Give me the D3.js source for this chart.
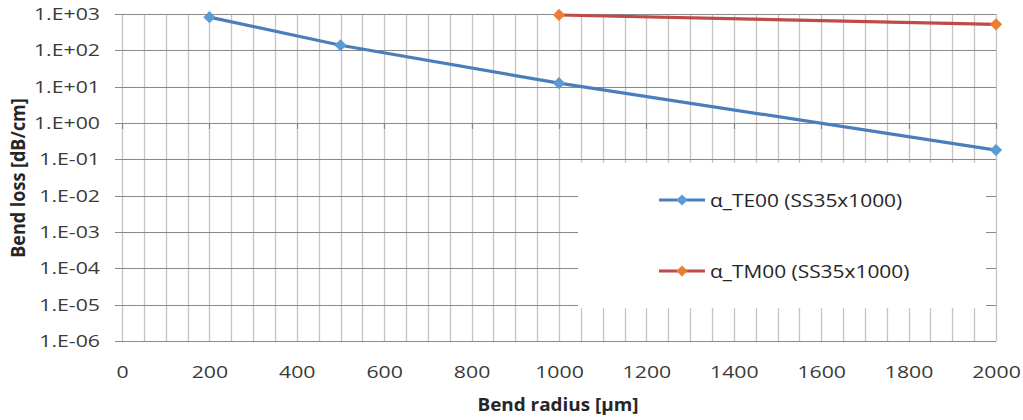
<!DOCTYPE html>
<html>
<head>
<meta charset="utf-8">
<script src="https://cdnjs.cloudflare.com/ajax/libs/d3/7.8.5/d3.min.js"></script>
<style>
	body { margin: 0; background: #fff; }
	svg { display: block; }
	text { font-family: "Open Sans", "Noto Sans", sans-serif; fill: #3a3a3a; }
	.tick-label { font-size: 16px; }
	.axis-title { font-size: 18px; font-weight: bold; fill: #262626; }
	.legend-text { font-size: 19px; fill: #262626; }
</style>
</head>
<body>
<script>
"use strict";

/* global d3 */

// Bend radius [um] for each series
var radiusTE = [200, 500, 1000, 2000];
var radiusTM = [1000, 2000];

// Bend loss [dB/cm]
var lossTE = [820, 138, 12.5, 0.18];
var lossTM = [940, 520];

var seriesNames = ['α_TE00 (SS35x1000)', 'α_TM00 (SS35x1000)'];

var xTicks = [0, 200, 400, 600, 800, 1000, 1200, 1400, 1600, 1800, 2000];
var yTicks = [1e3, 1e2, 1e1, 1e0, 1e-1, 1e-2, 1e-3, 1e-4, 1e-5, 1e-6];
var yTickLabels = ['1.E+03', '1.E+02', '1.E+01', '1.E+00', '1.E-01',
	'1.E-02', '1.E-03', '1.E-04', '1.E-05', '1.E-06'];

var W = 1023, H = 420;
var plot = { x0: 122, x1: 996, y0: 14, y1: 341 };
var textStretch = 1.33;   // the source picture is stretched horizontally

var svg = d3.select('body').append('svg').attr('width', W).attr('height', H);

var x = d3.scaleLinear().domain([0, 2000]).range([plot.x0, plot.x1]);
var y = d3.scaleLog().domain([1e-6, 1e3]).range([plot.y1, plot.y0]);

////////////////////////////////////////////////////////////////////////////////
// Gridlines: minor verticals every 50, horizontals at each decade
////////////////////////////////////////////////////////////////////////////////
svg.append('g').selectAll('line').data(d3.range(0, 2001, 50)).join('line').
	attr('x1', d => Math.round(x(d)) + 0.5).attr('x2', d => Math.round(x(d)) + 0.5).
	attr('y1', plot.y0).attr('y2', plot.y1).
	style('stroke', '#c4c4c4').style('stroke-width', 1.3);

svg.append('g').selectAll('line').data(yTicks).join('line').
	attr('x1', plot.x0 - 7).attr('x2', plot.x1).
	attr('y1', d => Math.round(y(d)) + 0.5).attr('y2', d => Math.round(y(d)) + 0.5).
	style('stroke', '#8a8a8a').style('stroke-width', 1.2);

// Major tick marks on the horizontal axis, which crosses at 1.E+00
svg.append('g').selectAll('line').data(xTicks).join('line').
	attr('x1', d => Math.round(x(d)) + 0.5).attr('x2', d => Math.round(x(d)) + 0.5).
	attr('y1', y(1)).attr('y2', y(1) + 6).
	style('stroke', '#8a8a8a').style('stroke-width', 1.2);

////////////////////////////////////////////////////////////////////////////////
// Axes labels (d3 axes, domain and ticks hidden - gridlines are drawn above)
////////////////////////////////////////////////////////////////////////////////
var yAxis = svg.append('g').attr('transform', 'translate(' + (plot.x0 - 22) + ',0)').
	call(d3.axisLeft(y).tickValues(yTicks).tickSize(0).
		tickFormat((d, i) => yTickLabels[i]));
yAxis.select('.domain').remove();
yAxis.selectAll('text').attr('class', 'tick-label').attr('x', 0).attr('dy', '0.35em').
	attr('transform', 'scale(' + textStretch + ',1)');
yAxis.attr('font-family', null).attr('font-size', null);

var xAxis = svg.append('g').attr('transform', 'translate(0,' + (plot.y1 + 31) + ')').
	call(d3.axisBottom(x).tickValues(xTicks).tickSize(0).tickFormat(d3.format('d')));
xAxis.select('.domain').remove();
xAxis.selectAll('text').attr('class', 'tick-label').attr('y', 0).attr('dy', '0.35em').
	attr('transform', 'scale(' + textStretch + ',1)');
xAxis.attr('font-family', null).attr('font-size', null);

// Axis titles
svg.append('text').attr('class', 'axis-title').
	attr('transform', 'translate(558,405) scale(1.05,1)').
	attr('text-anchor', 'middle').attr('dy', '0.35em').text('Bend radius [µm]');

svg.append('text').attr('class', 'axis-title').
	attr('transform', 'translate(18,178) rotate(-90) scale(1,1.08)').
	attr('text-anchor', 'middle').attr('dy', '0.35em').text('Bend loss [dB/cm]');

////////////////////////////////////////////////////////////////////////////////
// Legend box (white, covers the gridlines)
////////////////////////////////////////////////////////////////////////////////
var legend = svg.append('g').attr('transform', 'translate(578,163)');
legend.append('rect').attr('width', 408).attr('height', 145).style('fill', '#fff');

////////////////////////////////////////////////////////////////////////////////
// Draw one series: line + diamond markers
////////////////////////////////////////////////////////////////////////////////
function drawSeries(xs, ys, lineColor, markColor) {
	var pts = xs.map((d, i) => [x(d), y(ys[i])]);
	svg.append('path').datum(pts).
		attr('d', d3.line()).
		style('fill', 'none').style('stroke', lineColor).style('stroke-width', 3.2).
		style('stroke-linejoin', 'round');
	svg.append('g').selectAll('path').data(pts).join('path').
		attr('transform', d => 'translate(' + d + ')').
		attr('d', d3.symbol(d3.symbolDiamond2, 95)).
		style('fill', markColor);
} // end function drawSeries(...)

drawSeries(radiusTM, lossTM, '#be4b48', '#ed7d31');
drawSeries(radiusTE, lossTE, '#4a7ebb', '#5b9bd5');

function legendEntry(ly, lineColor, markColor, txt) {
	var g = legend.append('g').attr('transform', 'translate(0,' + ly + ')');
	g.append('line').attr('x1', 81).attr('x2', 127).
		style('stroke', lineColor).style('stroke-width', 3.2);
	g.append('path').attr('transform', 'translate(104,0)').
		attr('d', d3.symbol(d3.symbolDiamond2, 80)).style('fill', markColor);
	g.append('text').attr('class', 'legend-text').attr('x', 0).attr('dy', '0.35em').
		attr('transform', 'translate(132,0) scale(1.1,1)').text(txt);
} // end function legendEntry(...)

legendEntry(37, '#4a7ebb', '#5b9bd5', seriesNames[0]);
legendEntry(108, '#be4b48', '#ed7d31', seriesNames[1]);
</script>
</body>
</html>
